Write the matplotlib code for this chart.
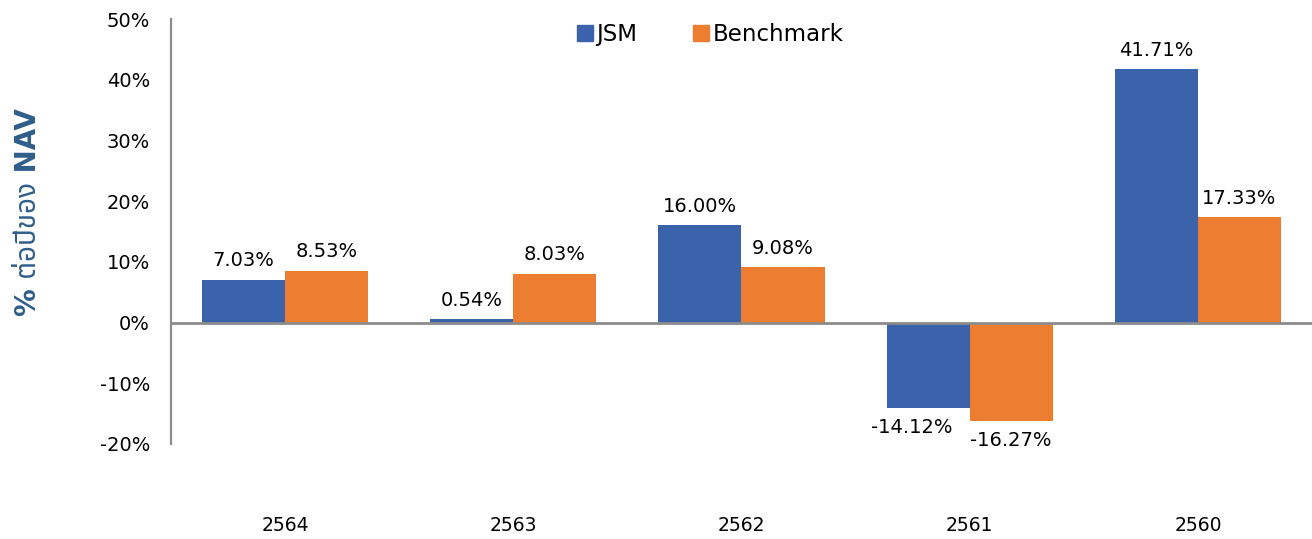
import matplotlib
matplotlib.use("Agg")
import matplotlib.pyplot as plt
from matplotlib import font_manager
from matplotlib.lines import Line2D
import numpy as np

years = ["2564", "2563", "2562", "2561", "2560"]
jsm = [7.03, 0.54, 16.00, -14.12, 41.71]
bench = [8.53, 8.03, 9.08, -16.27, 17.33]
series_names = ["JSM", "Benchmark"]
yticks = [-20, -10, 0, 10, 20, 30, 40, 50]
ylabel = "% ต่อปีของ NAV"

# find a font with Thai glyphs
thai_family = None
try:
    from fontTools.ttLib import TTFont
    pref = ["Noto Sans Thai", "Noto Sans Thai UI", "Loma", "Garuda", "Tlwg Typist", "Norasi", "Kinnari"]
    found = {}
    for f in font_manager.fontManager.ttflist:
        try:
            tt = TTFont(f.fname, fontNumber=0, lazy=True)
            cmap = tt.getBestCmap()
            if cmap and 0x0E15 in cmap and 0x0E2D in cmap:
                found.setdefault(f.name, f)
        except Exception:
            pass
    for p in pref:
        if p in found:
            thai_family = p
            break
    if thai_family is None and found:
        thai_family = sorted(found)[0]
except Exception:
    pass

label_fam = ["DejaVu Sans"] if thai_family is None else ["DejaVu Sans", thai_family]

plt.rcParams['font.family'] = ['DejaVu Sans']

fig = plt.figure(figsize=(13.12, 5.39), dpi=100)
ax = fig.add_axes([0.1303, 0.1763, 0.8697, 0.7884])

blue = "#3A63AB"
orange = "#ED7D31"
x = np.arange(len(years))
w = 0.364
b1 = ax.bar(x - w / 2, jsm, w, color=blue, zorder=2)
b2 = ax.bar(x + w / 2, bench, w, color=orange, zorder=2)

for bars in (b1, b2):
    for i, r in enumerate(bars):
        v = r.get_height()
        cx = r.get_x() + r.get_width() / 2
        dx = 0
        if v < 0 and bars is b1:
            dx = -12  # nudge to avoid overlapping neighbour label
        ax.annotate(f"{v:.2f}%", (cx, v), xytext=(dx, 7 if v >= 0 else -7),
                    textcoords="offset points", ha="center",
                    va="bottom" if v >= 0 else "top", fontsize=14)

ax.set_xlim(-0.5, 4.5)
ax.set_ylim(-20, 50)
ax.set_yticks(yticks)
ax.set_yticklabels([f"{t}%" for t in yticks], fontsize=14)
ax.set_xticks(x)
ax.set_xticklabels(years, fontsize=13.5)
ax.tick_params(axis='y', length=0, pad=15)
ax.tick_params(axis='x', length=0, pad=52)

for s in ("top", "right", "bottom"):
    ax.spines[s].set_visible(False)
ax.spines["left"].set_color("#8C8C8C")
ax.spines["left"].set_linewidth(1.6)
ax.axhline(0, color="#8C8C8C", linewidth=2, zorder=3)

ax.set_ylabel(ylabel, fontsize=20, fontweight="bold", color="#2F5D8A",
              family=label_fam)
ax.yaxis.set_label_coords(-0.113, 0.545)

handles = [Line2D([], [], marker="s", linestyle="", markersize=11, color=blue),
           Line2D([], [], marker="s", linestyle="", markersize=11, color=orange)]
ax.legend(handles, series_names, loc="upper center", bbox_to_anchor=(0.472, 1.04),
          ncol=2, frameon=False, fontsize=16.5, handletextpad=0.1, columnspacing=2.4,
          handlelength=0.8)

fig.savefig("out.png", dpi=100)
